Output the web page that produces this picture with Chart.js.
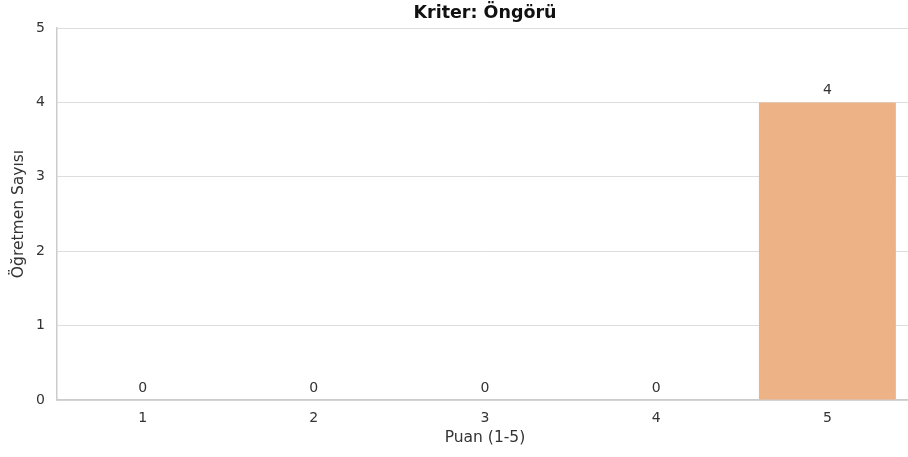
<!DOCTYPE html>
<html>
<head>
<meta charset="utf-8">
<script src="https://cdn.jsdelivr.net/npm/chart.js@4.4.1/dist/chart.umd.min.js"></script>
<style>
  html, body { margin: 0; padding: 0; background: #fff; overflow: hidden; }
  #wrap { width: 913px; height: 457px; }
</style>
</head>
<body>
<div id="wrap"><canvas id="barchart" width="913" height="457"></canvas></div>
<script>
// data
var puan_labels = ["1", "2", "3", "4", "5"];
var ogretmen_sayisi = [0, 0, 0, 0, 4];
var bar_colors = ["#8fb0e6", "#f0a276", "#8fd3a2", "#e68f8f", "#eeb287"];

var textColor = "#333333";
Chart.defaults.font.family = "'DejaVu Sans', sans-serif";
Chart.defaults.color = textColor;

// value labels above the bars
var valueLabels = {
  id: "valueLabels",
  afterDatasetsDraw: function (chart) {
    var ctx = chart.ctx;
    var meta = chart.getDatasetMeta(0);
    ctx.save();
    ctx.font = "14px 'DejaVu Sans', sans-serif";
    ctx.fillStyle = textColor;
    ctx.textAlign = "center";
    ctx.textBaseline = "bottom";
    for (let i = 0; i < meta.data.length; i++) {
      var bar = meta.data[i];
      ctx.fillText(String(ogretmen_sayisi[i]), bar.x, bar.y - 5);
    }
    ctx.restore();
  }
};

var chart1 = document.getElementById("barchart");
var myChart1 = new Chart(chart1, {
  type: "bar",
  data: {
    labels: puan_labels,
    datasets: [
      {
        data: ogretmen_sayisi,
        backgroundColor: bar_colors,
        borderWidth: 0,
        categoryPercentage: 0.8,
        barPercentage: 1.0
      }
    ]
  },
  options: {
    responsive: false,
    animation: false,
    layout: { padding: { left: 0, right: 0, top: 0, bottom: 0 } },
    plugins: {
      legend: { display: false },
      tooltip: { enabled: false },
      title: {
        display: true,
        text: "Kriter: Öngörü",
        fullSize: false,
        color: "#111111",
        font: { size: 17.5, weight: "bold" },
        padding: { top: 3, bottom: 4 }
      }
    },
    scales: {
      x: {
        grid: { display: false, drawTicks: false },
        border: { color: "#cccccc", width: 1.5 },
        ticks: { padding: 10, font: { size: 14 } },
        title: {
          display: true,
          text: "Puan (1-5)",
          font: { size: 15.5 },
          padding: { top: 2, bottom: 10 }
        },
        afterFit: function (scale) { scale.height = 57; }
      },
      y: {
        min: 0,
        max: 5,
        ticks: { stepSize: 1, padding: 12, font: { size: 14 } },
        grid: { color: "#dddddd", lineWidth: 1, drawTicks: false },
        border: { color: "#cccccc", width: 1.5 },
        title: {
          display: true,
          text: "Öğretmen Sayısı",
          font: { size: 15.5 },
          padding: { top: 10, bottom: 0 }
        },
        afterFit: function (scale) { scale.width = 57; }
      }
    }
  },
  plugins: [valueLabels]
});
</script>
</body>
</html>
